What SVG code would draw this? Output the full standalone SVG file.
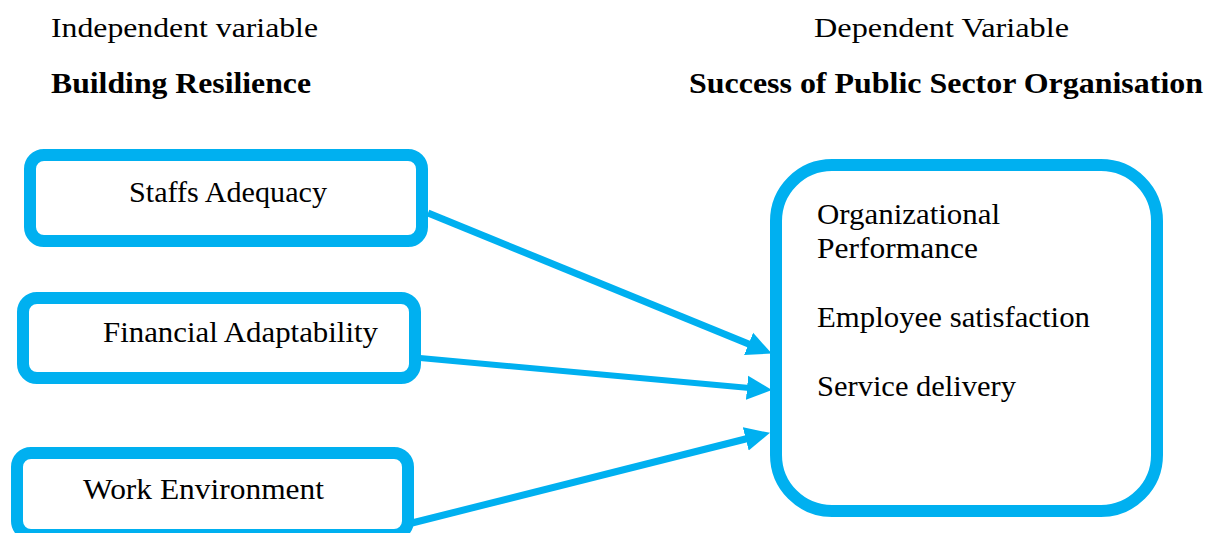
<svg xmlns="http://www.w3.org/2000/svg" width="1208" height="533" viewBox="0 0 1208 533">
  <style>
    .head { font-family: "Liberation Serif", "Times New Roman", serif; font-size: 28px; fill: #000; }
    .bold { font-weight: bold; font-size: 29px; }
    .label { font-family: "Liberation Serif", "DejaVu Serif", serif; font-size: 29px; fill: #000; }
    .box { fill: #fff; stroke: #00b0f0; stroke-width: 12; }
    .link { stroke: #00b0f0; fill: none; }
  </style>
  <defs>
    <marker id="arrow" markerUnits="userSpaceOnUse" markerWidth="26" markerHeight="26" viewBox="0 0 26 26" refX="8" refY="13" orient="auto">
      <path d="M0,1 L25,13 L0,25 Z" fill="#00b0f0"/>
    </marker>
  </defs>
  <rect width="1208" height="533" fill="#fff"/>

  <!-- column headings -->
  <g id="headings">
    <text class="head" x="51" y="37" textLength="267" lengthAdjust="spacingAndGlyphs">Independent variable</text>
    <text class="head bold" x="51" y="93" textLength="260" lengthAdjust="spacingAndGlyphs">Building Resilience</text>
    <text class="head" x="814" y="37" textLength="255" lengthAdjust="spacingAndGlyphs">Dependent Variable</text>
    <text class="head bold" x="689" y="93" textLength="514" lengthAdjust="spacingAndGlyphs">Success of Public Sector Organisation</text>
  </g>

  <!-- connectors -->
  <g id="connectors">
    <line class="link" x1="428" y1="213" x2="756" y2="347" stroke-width="7" marker-end="url(#arrow)"/>
    <line class="link" x1="420" y1="358" x2="755" y2="388.5" stroke-width="6" marker-end="url(#arrow)"/>
    <line class="link" x1="410" y1="523.5" x2="753.5" y2="437" stroke-width="7" marker-end="url(#arrow)"/>
  </g>

  <g id="staffs-adequacy">
    <rect class="box" x="30" y="155" width="392" height="86" rx="14"/>
    <text class="label" x="129" y="202" textLength="198" lengthAdjust="spacingAndGlyphs">Staffs Adequacy</text>
  </g>

  <g id="financial-adaptability">
    <rect class="box" x="23" y="298" width="392" height="80" rx="14"/>
    <text class="label" x="103" y="342" textLength="275" lengthAdjust="spacingAndGlyphs">Financial Adaptability</text>
  </g>

  <g id="work-environment">
    <rect class="box" x="17" y="453" width="391" height="82" rx="14"/>
    <text class="label" x="83" y="499" textLength="241" lengthAdjust="spacingAndGlyphs">Work Environment</text>
  </g>

  <g id="public-sector-success">
    <rect class="box" x="776" y="165" width="381" height="346" rx="56"/>
    <text class="label" x="817" y="224" textLength="183" lengthAdjust="spacingAndGlyphs">Organizational</text>
    <text class="label" x="817" y="258" textLength="161" lengthAdjust="spacingAndGlyphs">Performance</text>
    <text class="label" x="817" y="327" textLength="273" lengthAdjust="spacingAndGlyphs">Employee satisfaction</text>
    <text class="label" x="817" y="396" textLength="199" lengthAdjust="spacingAndGlyphs">Service delivery</text>
  </g>
</svg>
